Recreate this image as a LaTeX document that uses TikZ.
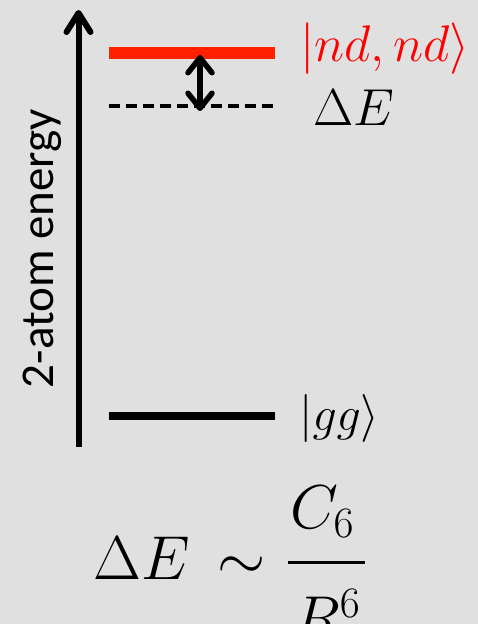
\RequirePackage{fix-cm}
\documentclass[tikz,border=0pt]{standalone}
\usepackage{fontspec}
\newfontfamily\labelfont{Carlito}
\usetikzlibrary{arrows.meta}
\definecolor{bg}{RGB}{224,224,224}
\definecolor{barred}{RGB}{255,32,0}
\definecolor{txtred}{RGB}{255,0,0}
\tikzset{
  level/.style={line width=#1, line cap=butt},
  bigarrow/.style={line width=6pt, -{Straight Barb[length=19pt,width=24pt,round]}},
  gaparrow/.style={line width=5.5pt, {Straight Barb[length=15pt,width=24pt,round]}-{Straight Barb[length=15pt,width=24pt,round]}},
  statelabel/.style={inner sep=0pt, anchor=base west},
}
\begin{document}
\begin{tikzpicture}[x=1pt,y=1pt]
\fill[bg] (0,0) rectangle (478,624);
\useasboundingbox (0,0) rectangle (478,624);
% axis
\coordinate (axb) at (78.5,177);
\coordinate (axt) at (78.5,614);
\draw[bigarrow] (axb) -- (axt);
\node[inner sep=0pt, anchor=base, rotate=90] (axl) at (53,375.5) {\labelfont\fontsize{47}{50}\selectfont 2-atom energy};
% levels
\coordinate (r1) at (109,571); \coordinate (r2) at (275,571);
\draw[level=12pt, barred] (r1) -- (r2);
\coordinate (d1) at (109,518); \coordinate (d2) at (275,518);
\draw[level=3.5pt, dash pattern=on 11pt off 6pt] (d1) -- (d2);
\coordinate (g1) at (109,208); \coordinate (g2) at (275,208);
\draw[level=8pt] (g1) -- (g2);
% gap arrow
\coordinate (ga) at (200,569); \coordinate (gb) at (200,513);
\draw[gaparrow] (ga) -- (gb);
% labels
\node[statelabel, text=txtred] (nd) at (300,562) {\fontsize{51.5}{60}\selectfont $|nd,nd\rangle$};
\node[statelabel] (de) at (313,498) {\fontsize{52}{60}\selectfont $\Delta E$};
\node[statelabel] (gg) at (299,193.5) {\fontsize{48}{60}\selectfont $|gg\rangle$};
% formula
\node[statelabel] (f1) at (93,44) {\fontsize{62}{70}\selectfont $\Delta E\mkern3mu\sim$};
\node[statelabel] (f2) at (290,95.5) {\fontsize{62}{70}\selectfont $C_6$};
\node[statelabel] (f3) at (293,-16) {\fontsize{62}{70}\selectfont $R^6$};
\coordinate (fb1) at (288,61); \coordinate (fb2) at (365,61);
\draw[line width=3pt] (fb1) -- (fb2);
\end{tikzpicture}
\end{document}
